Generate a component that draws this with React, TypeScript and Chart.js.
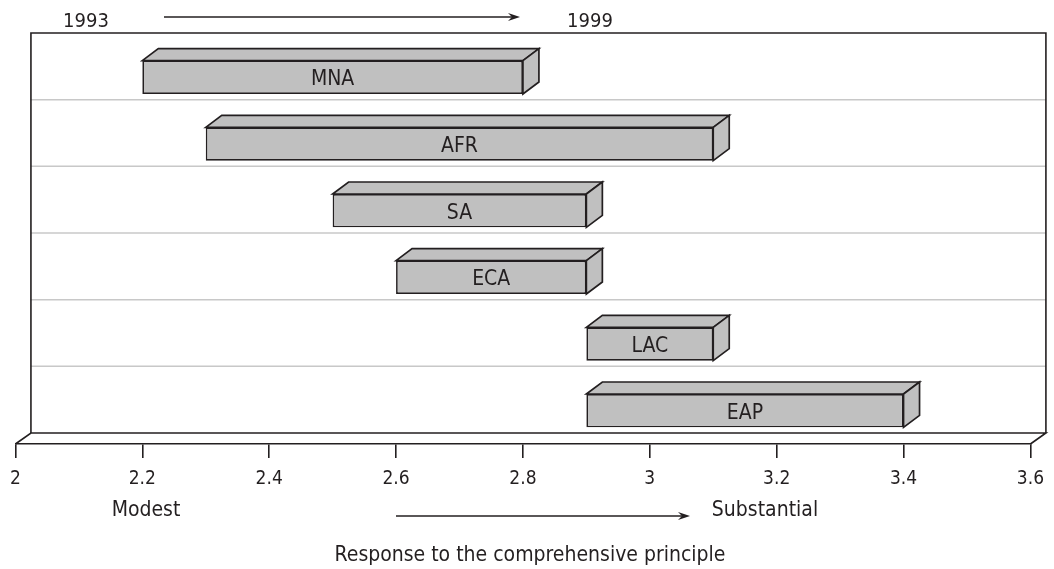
import { useEffect, useRef } from 'react';
import { Chart, registerables } from 'chart.js';

Chart.register(...registerables);

// Regions and their 1993 -> 1999 response range
const regions = ['MNA', 'AFR', 'SA', 'ECA', 'LAC', 'EAP'];
const start1993 = [2.2, 2.3, 2.5, 2.6, 2.9, 2.9];
const end1999 = [2.8, 3.1, 2.9, 2.9, 3.1, 3.4];
const xTickValues = [2, 2.2, 2.4, 2.6, 2.8, 3, 3.2, 3.4, 3.6];
const periodLabels = ['1993', '1999'];
const scaleEndLabels = ['Modest', 'Substantial'];
const axisTitle = 'Response to the comprehensive principle';

const INK = '#231f20';
const BAR_FILL = '#c0c0c0';
const GRID = '#c8c8c8';
const FONT = '"Liberation Sans Narrow", "Arial Narrow", "DejaVu Sans Condensed", sans-serif';
const BAR_DEPTH = { dx: 16, dy: -12 };
const WALL_DEPTH = { dx: 15.5, dy: -11 };

function drawArrow(ctx: CanvasRenderingContext2D, x1: number, x2: number, y: number) {
  ctx.save();
  ctx.strokeStyle = INK;
  ctx.fillStyle = INK;
  ctx.lineWidth = 1.3;
  ctx.beginPath();
  ctx.moveTo(x1, y);
  ctx.lineTo(x2 - 6, y);
  ctx.stroke();
  ctx.beginPath();
  ctx.moveTo(x2, y);
  ctx.lineTo(x2 - 12, y - 4);
  ctx.lineTo(x2 - 8, y);
  ctx.lineTo(x2 - 12, y + 4);
  ctx.closePath();
  ctx.fill();
  ctx.restore();
}

function drawText(ctx: CanvasRenderingContext2D, text: string, x: number, baseline: number, size: number) {
  ctx.save();
  ctx.font = `${size}px ${FONT}`;
  ctx.fillStyle = INK;
  ctx.textAlign = 'center';
  ctx.textBaseline = 'alphabetic';
  ctx.fillText(text, x, baseline);
  ctx.restore();
}

// Back wall with row separators and the floor edge of the 3-D frame
const wallPlugin = {
  id: 'wall3d',
  beforeDatasetsDraw(chart: any) {
    const { ctx, chartArea } = chart;
    const { left, right, top, bottom } = chartArea;
    const { dx, dy } = WALL_DEPTH;
    const yScale = chart.scales.y;
    ctx.save();
    ctx.strokeStyle = GRID;
    ctx.lineWidth = 1.5;
    for (let i = 1; i < regions.length; i++) {
      const yb = (yScale.getPixelForValue(i - 1) + yScale.getPixelForValue(i)) / 2 + dy;
      ctx.beginPath();
      ctx.moveTo(left + dx, yb);
      ctx.lineTo(right + dx, yb);
      ctx.stroke();
    }
    ctx.strokeStyle = INK;
    ctx.lineWidth = 1.6;
    ctx.beginPath();
    ctx.moveTo(left + dx, bottom + dy);
    ctx.lineTo(left + dx, top + dy);
    ctx.lineTo(right + dx, top + dy);
    ctx.lineTo(right + dx, bottom + dy);
    ctx.stroke();
    ctx.beginPath();
    ctx.moveTo(left, bottom);
    ctx.lineTo(left + dx, bottom + dy);
    ctx.lineTo(right + dx, bottom + dy);
    ctx.lineTo(right, bottom);
    ctx.stroke();
    ctx.restore();
  },
  afterDatasetsDraw(chart: any) {
    const { ctx } = chart;
    const meta = chart.getDatasetMeta(0);
    const { dx, dy } = BAR_DEPTH;
    ctx.save();
    ctx.fillStyle = BAR_FILL;
    ctx.strokeStyle = INK;
    ctx.lineWidth = 1.7;
    ctx.lineJoin = 'miter';
    meta.data.forEach((bar: any, i: number) => {
      const p = bar.getProps(['x', 'y', 'base', 'height'], true);
      const x1 = Math.min(p.x, p.base);
      const x2 = Math.max(p.x, p.base);
      const y1 = p.y - p.height / 2;
      const y2 = p.y + p.height / 2;
      // top face
      ctx.beginPath();
      ctx.moveTo(x1, y1);
      ctx.lineTo(x1 + dx, y1 + dy);
      ctx.lineTo(x2 + dx, y1 + dy);
      ctx.lineTo(x2, y1);
      ctx.closePath();
      ctx.fill();
      ctx.stroke();
      // side face
      ctx.beginPath();
      ctx.moveTo(x2, y1);
      ctx.lineTo(x2 + dx, y1 + dy);
      ctx.lineTo(x2 + dx, y2 + dy);
      ctx.lineTo(x2, y2);
      ctx.closePath();
      ctx.fill();
      ctx.stroke();
      drawText(ctx, regions[i], (x1 + x2) / 2, p.y + 8, 21);
    });
    ctx.restore();
  },
  afterDraw(chart: any) {
    const { ctx } = chart;
    drawText(ctx, periodLabels[0], 86, 27, 20);
    drawArrow(ctx, 164, 520, 17);
    drawText(ctx, periodLabels[1], 590, 27, 20);
    drawText(ctx, scaleEndLabels[0], 146, 516, 21);
    drawArrow(ctx, 396, 690, 516);
    drawText(ctx, scaleEndLabels[1], 765, 516, 21);
    drawText(ctx, axisTitle, 530, 561, 21);
  },
};

export default function App() {
  const canvasRef = useRef<HTMLCanvasElement | null>(null);

  useEffect(() => {
    const canvas = canvasRef.current;
    if (!canvas) return;
    const chart = new Chart(canvas, {
      type: 'bar',
      data: {
        labels: regions,
        datasets: [
          {
            data: regions.map((_, i) => [start1993[i], end1999[i]]) as any,
            backgroundColor: BAR_FILL,
            borderColor: INK,
            borderWidth: 1.7,
            borderSkipped: false,
            barPercentage: 0.5,
            categoryPercentage: 1,
          },
        ],
      },
      options: {
        indexAxis: 'y',
        responsive: false,
        animation: false,
        events: [],
        layout: { padding: { left: 14, right: 20, top: 44, bottom: 0 } },
        plugins: {
          legend: { display: false },
          tooltip: { enabled: false },
          title: { display: false },
        },
        scales: {
          x: {
            type: 'linear',
            min: 2,
            max: 3.6,
            afterBuildTicks: (scale: any) => {
              scale.ticks = xTickValues.map((v) => ({ value: v }));
            },
            afterFit: (scale: any) => {
              scale.height = 125;
            },
            grid: {
              drawOnChartArea: false,
              drawTicks: true,
              tickLength: 14,
              color: INK,
              lineWidth: 1.6,
            },
            border: { display: true, color: INK, width: 1.6 },
            ticks: {
              color: INK,
              padding: 10,
              font: { family: FONT, size: 19 },
              maxRotation: 0,
              autoSkip: false,
              callback: (v: any) => String(v),
            },
          },
          y: {
            type: 'category',
            display: false,
          },
        },
      },
      plugins: [wallPlugin],
    });
    return () => chart.destroy();
  }, []);

  return (
    <div style={{ position: 'absolute', left: 0, top: 0, width: 1054, height: 569, background: '#fff' }}>
      <canvas ref={canvasRef} width={1054} height={569} />
    </div>
  );
}
